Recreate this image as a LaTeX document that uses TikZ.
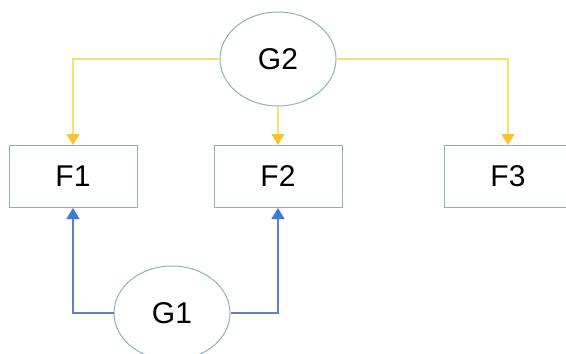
\documentclass[tikz,border=0pt]{standalone}
\usepackage{fontspec}
\setmainfont{Liberation Sans}
\usetikzlibrary{shapes.geometric,arrows.meta}
\definecolor{edgegray}{HTML}{8FAFC4}
\definecolor{yline}{HTML}{F0E46A}
\definecolor{yhead}{HTML}{F6C52C}
\definecolor{bline}{HTML}{5A82C8}
\definecolor{bhead}{HTML}{3C7BE0}
\begin{document}
\begin{tikzpicture}[x=1pt,y=-1pt,
  every node/.style={font=\fontsize{30}{30}\selectfont, inner sep=0pt},
  gen/.style={ellipse, draw=edgegray, line width=1pt, minimum width=116pt, minimum height=94pt},
  fbox/.style={rectangle, draw=edgegray, line width=1pt, minimum width=128pt, minimum height=62pt},
  ylink/.style={draw=yline, line width=1.5pt, -{Triangle[width=13pt,length=11pt,color=yhead]}},
  blink/.style={draw=bline, line width=1.5pt, -{Triangle[width=13pt,length=11pt,color=bhead]}}]
\useasboundingbox (0,0) rectangle (566,354);
\begin{scope}
\clip (0,0) rectangle (566,354);
\node[fbox] (F1) at (73,176.5) {F1};
\node[fbox] (F2) at (278,176.5) {F2};
\node[fbox] (F3) at (508,176.5) {F3};
\node[gen] (G2) at (278,59) {G2};
\node[gen] (G1) at (172,313) {G1};
\draw[ylink] (G2.west) -| (F1.north);
\draw[ylink] (G2.south) -- (F2.north);
\draw[ylink] (G2.east) -| (F3.north);
\draw[blink] (G1.west) -| (F1.south);
\draw[blink] (G1.east) -| (F2.south);
\end{scope}
\end{tikzpicture}
\end{document}
